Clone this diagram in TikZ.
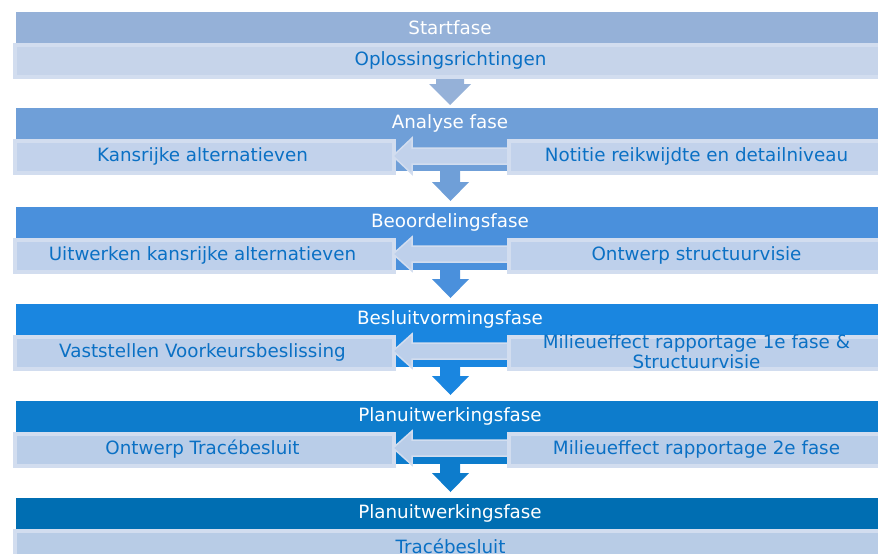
\documentclass[tikz,border=0pt]{standalone}
\usepackage{fontspec}
\newfontfamily\dv{DejaVu Sans}
\definecolor{hA}{HTML}{95B1D8}
\definecolor{hB}{HTML}{6F9FD8}
\definecolor{hC}{HTML}{4A90DC}
\definecolor{hD}{HTML}{1A86E0}
\definecolor{hE}{HTML}{0D7CCC}
\definecolor{hF}{HTML}{006EB2}
\definecolor{sA}{HTML}{C6D4EA}
\definecolor{sB}{HTML}{C2D2EB}
\definecolor{sC}{HTML}{BED0EB}
\definecolor{sD}{HTML}{BCCFEA}
\definecolor{sE}{HTML}{B9CDE8}
\definecolor{sF}{HTML}{B8CCE6}
\definecolor{bord}{HTML}{D2DDEF}
\definecolor{txt}{HTML}{0A70C4}
\tikzset{
  hdrbox/.style={draw=none, anchor=north west, minimum width=874pt, minimum height=63pt, inner sep=0pt},
  hdrtext/.style={text=white, font=\dv\fontsize{18.3}{20}\selectfont, inner sep=0pt},
  subbox/.style={fill=#1, draw=bord, line width=4pt, anchor=north west, minimum height=32pt, inner sep=0pt},
  wide/.style={minimum width=880pt},
  half/.style={minimum width=379pt},
  subtext/.style={text=txt, font=\dv\fontsize{18.3}{20}\selectfont, inner sep=0pt, align=center},
  larrow/.style={fill=#1, draw=bord, line width=1.5pt},
}
\begin{document}
\begin{tikzpicture}[x=1pt,y=-1pt]
\useasboundingbox (0,0) rectangle (878,554);
\clip (0,0) rectangle (878,554);
% headers
\node[hdrbox, fill=hA] (hA) at (16,12) {};
\node[hdrbox, fill=hB] (hB) at (16,108) {};
\node[hdrbox, fill=hC] (hC) at (16,207) {};
\node[hdrbox, fill=hD] (hD) at (16,304) {};
\node[hdrbox, fill=hE] (hE) at (16,401) {};
\node[hdrbox, fill=hF] (hF) at (16,498) {};
\node[hdrtext] (tA) at (450,27.5) {Startfase};
\node[hdrtext] (tB) at (450,123.5) {Analyse fase};
\node[hdrtext] (tC) at (450,222.5) {Beoordelingsfase};
\node[hdrtext] (tD) at (450,319.5) {Besluitvormingsfase};
\node[hdrtext] (tE) at (450,416.5) {Planuitwerkingsfase};
\node[hdrtext] (tF) at (450,513.5) {Planuitwerkingsfase};
% down arrows
\fill[hA] (436,70) -- (464,70) -- (464,84) -- (471,84) -- (450,105) -- (429,84) -- (436,84) -- cycle;
\fill[hB] (440,170) -- (460,170) -- (460,182) -- (469,182) -- (450.5,201) -- (432,182) -- (440,182) -- cycle;
\fill[hC] (440,267) -- (460,267) -- (460,279) -- (469,279) -- (450.5,298) -- (432,279) -- (440,279) -- cycle;
\fill[hD] (440,364) -- (460,364) -- (460,376) -- (469,376) -- (450.5,395) -- (432,376) -- (440,376) -- cycle;
\fill[hE] (440,461) -- (460,461) -- (460,473) -- (469,473) -- (450.5,492) -- (432,473) -- (440,473) -- cycle;
% sub boxes
\node[subbox=sA, wide] (sA) at (13,43) {};
\node[subtext] (oA) at (450.5,60.5) {Oplossingsrichtingen};
\node[subbox=sF, wide] (sF) at (13,529) {};
\node[subtext] (oF) at (450.5,546) {Tracébesluit};
% block B
\node[subbox=sB, half] (lB) at (13,139) {};
\node[subtext] (lBt) at (202.5,156.5) {Kansrijke alternatieven};
\filldraw[larrow=sB] (512,148) -- (412,148) -- (412,138) -- (393,156) -- (412,174) -- (412,164) -- (512,164) -- cycle;
\node[subbox=sB, half] (rB) at (507,139) {};
\node[subtext] (rBt) at (696.5,156.5) {Notitie reikwijdte en detailniveau};
% block C
\node[subbox=sC, half] (lC) at (13,238) {};
\node[subtext] (lCt) at (202.5,255.5) {Uitwerken kansrijke alternatieven};
\filldraw[larrow=sC] (512,246) -- (412,246) -- (412,237) -- (393,254) -- (412,271) -- (412,262) -- (512,262) -- cycle;
\node[subbox=sC, half] (rC) at (507,238) {};
\node[subtext] (rCt) at (696.5,255.5) {Ontwerp structuurvisie};
% block D
\node[subbox=sD, half] (lD) at (13,335) {};
\node[subtext] (lDt) at (202.5,352.5) {Vaststellen Voorkeursbeslissing};
\filldraw[larrow=sD] (512,343) -- (412,343) -- (412,334) -- (393,351) -- (412,368) -- (412,359) -- (512,359) -- cycle;
\node[subbox=sD, half] (rD) at (507,335) {};
\node[subtext] (rDt) at (696.5,352) {Milieueffect rapportage 1e fase \&\\Structuurvisie};
% block E
\node[subbox=sE, half] (lE) at (13,432) {};
\node[subtext] (lEt) at (202.5,449.5) {Ontwerp Tracébesluit};
\filldraw[larrow=sE] (512,440) -- (412,440) -- (412,431) -- (393,448) -- (412,465) -- (412,456) -- (512,456) -- cycle;
\node[subbox=sE, half] (rE) at (507,432) {};
\node[subtext] (rEt) at (696.5,449.5) {Milieueffect rapportage 2e fase};
\end{tikzpicture}
\end{document}
